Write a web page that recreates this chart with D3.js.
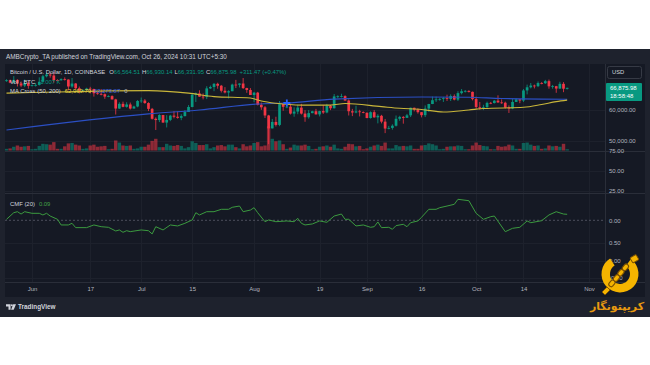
<!DOCTYPE html>
<html><head><meta charset="utf-8">
<script src="https://cdn.jsdelivr.net/npm/d3@7"></script>
<style>html,body{margin:0;padding:0;background:#fff;}svg{display:block;font-family:"Liberation Sans",Arial,sans-serif;}</style>
</head><body><svg id="c" width="650" height="365"></svg>
<script>
// ---------- DATA (prices in thousands USD, volume in thousands BTC) ----------
const startDate = "2024-05-25";
const openK = [69.0,69.3,68.5,69.4,68.3,67.6,68.35,67.5,67.75,67.8,68.8,70.55,71.1,70.8,69.35,69.3,69.65,69.5,67.3,68.25,66.75,66.0,66.2,66.65,66.5,65.15,64.95,64.85,64.1,64.25,63.2,60.3,61.8,60.85,61.6,60.3,60.95,62.7,62.85,62.05,60.2,57.05,56.65,58.25,55.85,56.7,58.05,57.7,57.35,57.9,59.2,60.8,64.7,65.1,64.1,63.95,66.7,67.15,68.15,67.55,65.95,65.4,65.8,67.9,67.85,68.25,66.8,66.2,64.6,65.35,61.5,60.7,58.1,54.0,56.05,55.1,61.7,60.85,60.9,58.7,59.35,60.6,58.7,57.55,58.85,59.45,58.45,59.5,59.05,61.15,60.4,64.15,64.2,64.25,62.85,59.45,59.05,59.4,59.15,58.95,57.3,59.15,57.5,58.0,56.15,53.95,54.15,54.85,57.05,57.65,57.35,58.15,60.55,60.0,59.15,58.2,60.3,61.75,62.95,63.2,63.35,63.6,63.35,64.3,63.15,65.2,65.8,65.9,65.6,63.3,60.8,60.65,60.75,62.1,62.05,62.8,62.25,62.15,60.6,60.3,62.4,63.2,62.85,66.05,67.05,67.6,67.4,68.4,68.35,69.0,67.35,67.4,66.65,68.15,66.56];
const highK = [69.6,69.5,70.6,69.6,68.9,69.5,69.0,67.9,68.4,70.2,71.0,71.7,71.6,71.9,69.6,69.9,70.2,69.6,70.0,68.4,67.3,66.4,66.9,67.2,66.6,65.7,66.5,65.1,64.5,64.5,63.4,62.3,62.5,62.3,62.2,61.2,63.0,63.8,63.3,62.3,60.5,57.5,58.5,58.3,58.2,58.3,59.5,59.4,58.5,59.8,61.4,64.9,65.4,66.1,65.1,67.4,67.6,68.4,68.5,67.8,67.1,66.1,68.2,69.4,68.3,70.0,66.9,66.8,65.6,65.6,62.2,61.1,58.3,57.0,57.7,62.7,61.8,61.4,61.8,60.7,61.5,61.8,59.8,59.8,59.6,60.2,59.6,61.4,61.8,61.4,64.9,64.5,65.0,64.5,63.2,60.2,61.2,59.9,59.4,59.1,59.4,59.8,58.5,58.3,57.0,54.8,55.3,58.1,58.0,57.9,58.6,60.6,60.6,60.4,59.2,61.3,61.8,64.1,64.1,63.6,64.0,64.7,64.8,64.8,65.8,66.5,66.2,66.1,65.7,64.1,62.4,61.5,62.5,62.4,63.0,64.5,63.2,62.5,61.3,63.4,63.5,63.3,66.5,67.9,68.4,67.9,68.9,68.7,69.4,69.5,67.8,67.5,68.8,68.7,66.93];
const lowK = [68.8,68.3,68.3,67.3,67.1,67.1,66.6,67.3,67.3,67.6,68.5,70.2,70.1,68.5,69.2,69.1,69.2,66.1,66.9,66.3,65.1,65.9,66.0,65.1,64.1,64.7,64.5,63.4,63.9,63.2,58.4,60.2,60.7,60.6,60.0,60.3,60.7,62.1,61.8,59.5,56.8,53.5,56.0,55.8,54.3,56.3,57.2,57.1,56.6,57.8,59.2,60.7,62.4,64.0,63.2,63.3,66.5,65.8,66.6,65.4,65.1,63.5,65.8,66.8,67.0,66.5,65.3,64.6,62.3,61.3,59.9,57.3,49.0,54.0,54.6,54.7,59.6,60.4,58.4,57.7,58.5,58.4,56.1,57.1,58.8,58.4,57.8,58.6,58.8,59.8,60.3,63.6,63.8,62.8,58.1,57.9,58.8,57.8,58.8,57.2,57.1,57.4,55.6,55.6,52.5,53.7,53.6,54.6,56.4,55.5,57.3,57.6,59.4,58.7,57.5,57.6,59.2,61.7,62.4,62.8,62.4,62.7,62.7,62.9,62.7,64.8,65.4,65.4,62.9,60.2,59.9,59.8,60.5,61.7,61.9,62.1,61.8,60.3,58.9,60.1,62.4,62.0,62.4,64.8,66.7,66.7,67.1,68.0,68.1,66.6,66.6,65.3,66.5,65.5,66.33];
const closeK = [69.3,68.5,69.4,68.3,67.6,68.35,67.5,67.75,67.8,68.8,70.55,71.1,70.8,69.35,69.3,69.65,69.5,67.3,68.25,66.75,66.0,66.2,66.65,66.5,65.15,64.95,64.85,64.1,64.25,63.2,60.3,61.8,60.85,61.6,60.3,60.95,62.7,62.85,62.05,60.2,57.05,56.65,58.25,55.85,56.7,58.05,57.7,57.35,57.9,59.2,60.8,64.7,65.1,64.1,63.95,66.7,67.15,68.15,67.55,65.95,65.4,65.8,67.9,67.85,68.25,66.8,66.2,64.6,65.35,61.5,60.7,58.1,54.0,56.05,55.1,61.7,60.85,60.9,58.7,59.35,60.6,58.7,57.55,58.85,59.45,58.45,59.5,59.05,61.15,60.4,64.15,64.2,64.25,62.85,59.45,59.05,59.4,59.15,58.95,57.3,59.15,57.5,58.0,56.15,53.95,54.15,54.85,57.05,57.65,57.35,58.15,60.55,60.0,59.15,58.2,60.3,61.75,62.95,63.2,63.35,63.6,63.35,64.3,63.15,65.2,65.8,65.9,65.6,63.3,60.8,60.65,60.75,62.1,62.05,62.8,62.25,62.15,60.6,60.3,62.4,63.2,62.85,66.05,67.05,67.6,67.4,68.4,68.35,69.0,67.35,67.4,66.65,68.15,66.6,66.876];
const volumeK = [4,5,9,12,9,10,11,
 3,4,11,16,15,14,20,4,4,10,17,18,14,12,4,5,12,14,9,10,11,3,4,24,19,12,11,12,4,5,
 9,9,14,23,28,8,8,16,12,11,13,11,5,8,22,18,13,13,15,5,8,12,13,10,14,14,8,5,15,10,12,
 18,20,10,12,58,28,22,24,15,4,7,14,12,12,14,11,3,4,9,10,12,9,14,5,4,9,16,15,10,11,3,
 5,9,12,14,11,19,5,5,13,10,11,10,12,4,4,12,13,17,15,12,3,4,9,10,10,12,11,3,3,12,
 19,13,11,10,3,3,11,9,10,14,12,4,4,18,19,14,11,12,4,5,12,10,11,9,16,3];
const ma50Dates = ["05-25","06-08","06-22","07-03","07-14","07-21","07-31","08-03","08-07","08-14","08-22","08-26","09-05","09-10","09-16","09-22","09-29","10-03","10-14","10-19","10-23","10-26"];
const ma50K = [65.2,65.55,65.9,66.0,65.2,64.1,63.65,62.7,61.97,61.4,61.4,61.9,60.9,60.4,60.0,59.2,59.85,60.3,60.7,61.6,62.5,62.97];
const ma200Dates = ["05-25","07-03","07-17","08-02","08-10","08-23","09-16","09-29","10-08","10-26"];
const ma200K = [53.5,58.6,59.84,61.75,62.06,63.3,63.97,63.9,63.5,63.27];
const crossDate = "08-10", crossK = 62.06;
const cmfDates = ["05-25","05-27","05-28","05-29","05-30","06-01","06-03","06-04","06-05","06-06","06-08","06-09","06-11","06-12","06-13","06-16","06-18","06-20","06-22","06-24","06-25","06-26","06-27","06-28","07-01","07-03","07-04","07-05","07-07","07-09","07-11","07-13","07-15","07-16","07-17","07-19","07-21","07-23","07-25","07-26","07-28","07-29","07-31","08-01","08-02","08-04","08-05","08-07","08-10","08-12","08-13","08-14","08-15","08-17","08-19","08-21","08-23","08-25","08-26","08-27","08-29","08-31","09-02","09-03","09-04","09-05","09-07","09-08","09-09","09-11","09-12","09-13","09-15","09-16","09-18","09-20","09-21","09-23","09-25","09-26","09-29","10-01","10-03","10-05","10-06","10-09","10-11","10-13","10-15","10-16","10-19","10-21","10-23","10-25","10-26"];
const cmfVals = [0.015,0.114,0.129,0.094,0.129,0.105,0.105,0.08,0.105,0.064,0.015,-0.07,-0.07,-0.045,-0.11,-0.11,-0.07,-0.096,-0.105,-0.16,-0.145,-0.18,-0.156,-0.17,-0.145,-0.156,-0.205,-0.096,-0.145,-0.07,-0.085,-0.045,0.005,0.114,0.08,0.129,0.129,0.165,0.165,0.195,0.214,0.129,0.154,0.189,0.114,-0.021,0.005,-0.021,-0.01,-0.021,0.03,-0.045,-0.07,-0.055,-0.01,-0.03,0.064,0.094,0.015,0.015,-0.085,-0.07,-0.105,-0.096,-0.025,-0.11,-0.105,-0.135,-0.08,-0.06,-0.096,-0.036,-0.01,0.045,0.165,0.165,0.189,0.214,0.24,0.315,0.294,0.105,0.015,0.054,0.064,-0.171,-0.12,-0.105,-0.01,-0.036,-0.006,0.08,0.129,0.094,0.09];
const timeTickDates = ["2024-06-01","2024-06-17","2024-07-01","2024-07-15","2024-08-01","2024-08-19","2024-09-01","2024-09-16","2024-10-01","2024-10-14","2024-11-01"];
const timeTickLabels = ["Jun","17","Jul","15","Aug","19","Sep","16","Oct","14","Nov"];
const priceTicks = [50, 60];
const pane2Ticks = [25, 50, 75];
const cmfTicks = [0];
const pane4Ticks = [0.5, 0, -0.5];
const pane4Labels = ["0.50","0.00","-0.50"];
const legend = {o:"66,564.51", h:"66,930.14", l:"66,331.95", c:"66,875.98", chg:"+311.47 (+0.47%)", vol:"1.007 K", ma50:"62,969.79", ma200:"63,273.87", cmf:"0.09", clock:"18:58:48"};

// ---------- DRAW ----------
const svg = d3.select("#c");
const parse = d3.utcParse("%Y-%m-%d");
const pd = s => parse("2024-" + s);
const t0 = parse(startDate);
const dates = openK.map((_, i) => d3.utcDay.offset(t0, i));
const x = d3.scaleUtc().domain([parse("2024-05-25"), parse("2024-11-01")]).range([6.5, 589]);
const y = d3.scaleLinear().domain([50, 60]).range([141, 109.5]);
const yv = d3.scaleLinear().domain([0, 55]).range([150.5, 127.5]);
const y2 = d3.scaleLinear().domain([25, 75]).range([191, 151]);
const yc = d3.scaleLinear().domain([0, 0.3]).range([220.3, 200.3]);
const y4 = d3.scaleLinear().domain([-0.5, 0.5]).range([278, 243]);

const FRAME = "#1e222d", PANE = "#151924", GRID = "#1d212c", SEP = "#2a2e39";
const UP = "#089981", DN = "#f23645", TXT = "#b2b5be", TXT2 = "#d1d4dc";
const YEL = "#c9b63a", BLU = "#2b4fc4";

svg.append("rect").attr("x",0).attr("y",49).attr("width",650).attr("height",268).attr("fill",FRAME);
svg.append("rect").attr("x",5).attr("y",64).attr("width",640).attr("height",233).attr("fill",PANE);

// vertical grid
const gridG = svg.append("g");
timeTickDates.forEach(d => {
  const xx = Math.round(x(parse(d))) + 0.5;
  gridG.append("line").attr("x1",xx).attr("x2",xx).attr("y1",64).attr("y2",282).attr("stroke",GRID).attr("stroke-width",1);
});
// horizontal grid
priceTicks.forEach(v => gridG.append("line").attr("x1",5).attr("x2",605).attr("y1",Math.round(y(v))+0.5).attr("y2",Math.round(y(v))+0.5).attr("stroke",GRID));
pane2Ticks.forEach(v => gridG.append("line").attr("x1",5).attr("x2",605).attr("y1",Math.round(y2(v))+0.5).attr("y2",Math.round(y2(v))+0.5).attr("stroke",GRID));
pane4Ticks.forEach(v => gridG.append("line").attr("x1",5).attr("x2",605).attr("y1",Math.round(y4(v))+0.5).attr("y2",Math.round(y4(v))+0.5).attr("stroke",GRID));

// separators
[[5,645,151.5,151.5],[5,645,193.5,193.5],[5,645,282.5,282.5],[605.5,605.5,64,282]].forEach(s =>
  svg.append("line").attr("x1",s[0]).attr("x2",s[1]).attr("y1",s[2]).attr("y2",s[3]).attr("stroke",SEP));

// clip for main pane
svg.append("clipPath").attr("id","mainClip").append("rect").attr("x",5).attr("y",64).attr("width",600).attr("height",87);

const bw = 2.7;
const main = svg.append("g").attr("clip-path","url(#mainClip)");
// volume
main.selectAll("rect.vol").data(dates).join("rect").attr("class","vol")
  .attr("x", (d,i) => x(d) - 1.7).attr("width", 3.4)
  .attr("y", (d,i) => yv(volumeK[i])).attr("height", (d,i) => yv(0) - yv(volumeK[i]))
  .attr("fill", (d,i) => closeK[i] >= openK[i] ? UP : DN).attr("opacity", 0.55);
// wicks
main.selectAll("line.wick").data(dates).join("line").attr("class","wick")
  .attr("x1", d => x(d)).attr("x2", d => x(d))
  .attr("y1", (d,i) => y(highK[i])).attr("y2", (d,i) => y(lowK[i]))
  .attr("stroke", (d,i) => closeK[i] >= openK[i] ? UP : DN).attr("stroke-width", 0.8);
// bodies
main.selectAll("rect.body").data(dates).join("rect").attr("class","body")
  .attr("x", d => x(d) - bw/2).attr("width", bw)
  .attr("y", (d,i) => Math.min(y(openK[i]), y(closeK[i])))
  .attr("height", (d,i) => Math.max(0.8, Math.abs(y(openK[i]) - y(closeK[i]))))
  .attr("fill", (d,i) => closeK[i] >= openK[i] ? UP : DN);

// MA lines
const lineMA = d3.line().x(d => x(d[0])).y(d => y(d[1])).curve(d3.curveMonotoneX);
main.append("path").datum(ma200Dates.map((d,i) => [pd(d), ma200K[i]])).attr("d", lineMA)
  .attr("fill","none").attr("stroke",BLU).attr("stroke-width",1.1);
main.append("path").datum(ma50Dates.map((d,i) => [pd(d), ma50K[i]])).attr("d", lineMA)
  .attr("fill","none").attr("stroke",YEL).attr("stroke-width",1.1);
// cross marker
const cx = x(pd(crossDate)), cy = y(crossK);
main.append("path").attr("d", `M${cx-3.5},${cy}H${cx+3.5}M${cx},${cy-3.5}V${cy+3.5}`)
  .attr("stroke","#2962ff").attr("stroke-width",1.8);

// CMF
svg.append("line").attr("x1",5).attr("x2",605).attr("y1",yc(0)).attr("y2",yc(0))
  .attr("stroke","#787b86").attr("stroke-opacity",0.7).attr("stroke-dasharray","2,2").attr("stroke-width",0.8);
svg.append("path").datum(cmfDates.map((d,i) => [pd(d), cmfVals[i]]))
  .attr("d", d3.line().x(d => x(d[0])).y(d => yc(d[1])))
  .attr("fill","none").attr("stroke","#3b9a3f").attr("stroke-width",1);

// ---------- Axes ----------
const fs = 6;
function rightAxis(scale, ticks, fmt) {
  const g = svg.append("g").attr("transform","translate(609,0)")
    .call(d3.axisRight(scale).tickValues(ticks).tickSize(0).tickPadding(0).tickFormat(fmt));
  g.select(".domain").remove();
  g.selectAll("text").attr("fill",TXT).attr("font-size",fs).attr("font-family","Liberation Sans, Arial, sans-serif");
  return g;
}
rightAxis(y, priceTicks, d => d3.format(",.2f")(d*1000));
rightAxis(y2, pane2Ticks, d => d3.format(".2f")(d));
rightAxis(yc, cmfTicks, d => d3.format(".2f")(d));
rightAxis(y4, pane4Ticks, (d,i) => pane4Labels[i]);

const xAxis = svg.append("g").attr("transform","translate(0,287)")
  .call(d3.axisBottom(x).tickValues(timeTickDates.map(parse)).tickSize(0).tickPadding(0).tickFormat((d,i) => timeTickLabels[i]));
xAxis.select(".domain").remove();
xAxis.selectAll("text").attr("fill",TXT).attr("font-size",fs).attr("font-family","Liberation Sans, Arial, sans-serif");

// USD box
svg.append("rect").attr("x",607.5).attr("y",66.5).attr("width",34).attr("height",12).attr("rx",2)
  .attr("fill",PANE).attr("stroke","#363a45");
svg.append("text").attr("x",612).attr("y",72.7).attr("dominant-baseline","middle").attr("fill",TXT2).attr("font-size",5.8).text("USD");
// last price label
const ly = y(closeK[closeK.length-1]);
svg.append("rect").attr("x",606).attr("y",ly-4.8).attr("width",36).attr("height",18).attr("rx",1).attr("fill",UP);
svg.append("text").attr("x",610).attr("y",ly+0.2).attr("dominant-baseline","middle").attr("fill","#fff").attr("font-size",6).text(legend.c);
svg.append("text").attr("x",610).attr("y",ly+8.2).attr("dominant-baseline","middle").attr("fill","#fff").attr("font-size",6).text(legend.clock);

// ---------- Legends ----------
svg.append("text").attr("x",6).attr("y",57.5).attr("dominant-baseline","middle").attr("fill",TXT2).attr("font-size",6.4)
  .text("AMBCrypto_TA published on TradingView.com, Oct 26, 2024 10:31 UTC+5:30");

const l1 = svg.append("text").attr("x",10).attr("y",71.8).attr("dominant-baseline","middle").attr("font-size",5.9).attr("fill",TXT2);
l1.append("tspan").text("Bitcoin / U.S. Dollar, 1D, COINBASE");
[["O",legend.o],["H",legend.h],["L",legend.l],["C",legend.c]].forEach((p,k) => {
  l1.append("tspan").attr("dx", k===0 ? 4 : 2).attr("fill",TXT2).text(p[0]);
  l1.append("tspan").attr("fill",UP).text(p[1]);
});
l1.append("tspan").attr("dx",3).attr("fill",UP).text(legend.chg);

const l2 = svg.append("text").attr("x",10).attr("y",81.5).attr("dominant-baseline","middle").attr("font-size",5.9).attr("fill",TXT2);
l2.append("tspan").text("Vol · BTC");
l2.append("tspan").attr("dx",5).attr("fill",UP).text(legend.vol);

const l3 = svg.append("text").attr("x",10).attr("y",91).attr("dominant-baseline","middle").attr("font-size",5.9).attr("fill",TXT2);
l3.append("tspan").text("MA Cross (50, 200)");
l3.append("tspan").attr("dx",4).attr("fill","#e3cf3e").text(legend.ma50);
l3.append("tspan").attr("dx",3).attr("fill","#3d63e0").text(legend.ma200);
l3.append("tspan").attr("dx",4).attr("fill",TXT).text("0");

const l4 = svg.append("text").attr("x",10).attr("y",203.5).attr("dominant-baseline","middle").attr("font-size",5.9).attr("fill",TXT2);
l4.append("tspan").text("CMF (20)");
l4.append("tspan").attr("dx",4).attr("fill","#43a047").text(legend.cmf);

// TradingView footer logo
const tv = svg.append("g").attr("fill",TXT2);
tv.append("path").attr("d","M6,304.3h4.6v5.4h-2.1v-3.3h-2.5z");
tv.append("circle").attr("cx",11.9).attr("cy",305.3).attr("r",1.0);
tv.append("path").attr("d","M13.2,304.3h2.8l-2.3,5.4h-2.6z");
svg.append("text").attr("x",18).attr("y",307.3).attr("dominant-baseline","middle").attr("fill",TXT2).attr("font-size",6.4).attr("font-weight","bold").text("TradingView");

// Watermark logo (Cryptonegar)
const wm = svg.append("g");
wm.append("path").attr("d", d3.arc().innerRadius(10).outerRadius(18.5).startAngle(Math.PI*0.2).endAngle(Math.PI*1.82)())
  .attr("transform","translate(620,274)").attr("fill","#f5b400");
const chain = wm.append("g").attr("transform","translate(619,275) rotate(-50)");
[-11,-4,3,10].forEach((cxx,k) => {
  chain.append("rect").attr("x",cxx-3.5).attr("y",-2.3).attr("width",7).attr("height",4.6).attr("rx",2.2)
    .attr("fill","#f5b400").attr("stroke","#7a4f00").attr("stroke-width",1.1);
});
wm.append("rect").attr("x",631).attr("y",256).attr("width",7).attr("height",6).attr("rx",1.2)
  .attr("fill","#f5b400").attr("stroke","#7a4f00").attr("stroke-width",0.9).attr("transform","rotate(-30,634,259)");
wm.append("path").attr("d","M602,292l5,-5l3,3l-5,5z").attr("fill","#f5b400").attr("stroke","#7a4f00").attr("stroke-width",0.8);
wm.append("text").attr("x",617).attr("y",307).attr("text-anchor","middle").attr("dominant-baseline","middle")
  .attr("font-family","DejaVu Sans, Noto Sans, sans-serif").attr("font-weight","bold").attr("font-size",11)
  .attr("fill","#e89a10").text("کریپتونگار");
</script></body></html>
